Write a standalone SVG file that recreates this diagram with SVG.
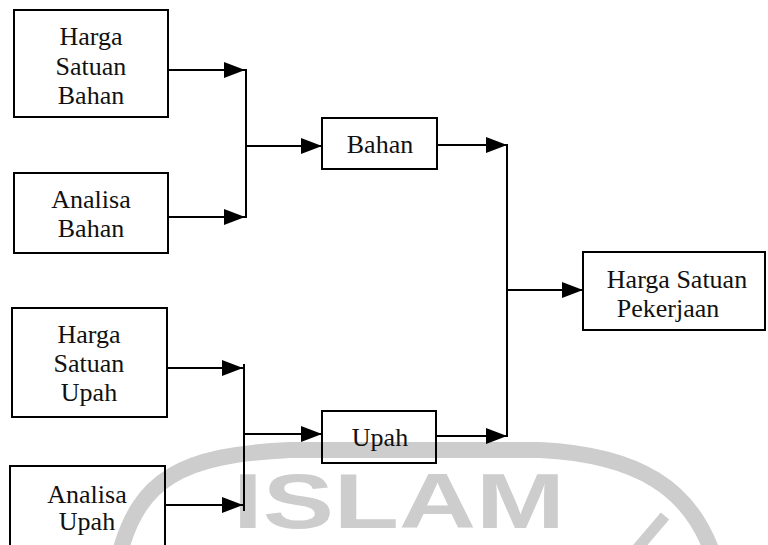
<svg xmlns="http://www.w3.org/2000/svg" width="768" height="545" viewBox="0 0 768 545">
  <style>
    .box { fill: none; stroke: #000; stroke-width: 2; }
    .lbl { font-family: "Liberation Serif", "Times New Roman", serif; font-size: 26px; fill: #111; text-anchor: middle; }
    .conn { fill: none; stroke: #000; stroke-width: 2; }
    .wm { fill: none; stroke: #cdcdcd; stroke-width: 16; }
    .wmtext { font-family: "Liberation Sans", Arial, sans-serif; font-weight: bold; font-size: 78px; fill: #cdcdcd; }
  </style>
  <defs>
    <marker id="arrow" markerUnits="userSpaceOnUse" markerWidth="22" markerHeight="18" refX="21" refY="8" orient="auto">
      <path d="M0,0 L21,8 L0,16 z" fill="#000"/>
    </marker>
  </defs>
  <rect width="768" height="545" fill="#fff"/>

  <g id="watermark">
    <path class="wm" d="M 120 552 C 140 480, 180 455, 290 450 L 540 450 C 640 455, 690 490, 712 552"/>
    <line x1="665" y1="516" x2="636" y2="550" stroke="#cdcdcd" stroke-width="11"/>
    <text class="wmtext" x="233" y="528" textLength="332" lengthAdjust="spacingAndGlyphs">ISLAM</text>
  </g>

  <g id="connectors">
    <line class="conn" x1="168" y1="70" x2="245" y2="70" marker-end="url(#arrow)"/>
    <line class="conn" x1="168" y1="217" x2="245" y2="217" marker-end="url(#arrow)"/>
    <line class="conn" x1="246" y1="69" x2="246" y2="218"/>
    <line class="conn" x1="246" y1="146" x2="322" y2="146" marker-end="url(#arrow)"/>
    <line class="conn" x1="437" y1="145" x2="507" y2="145" marker-end="url(#arrow)"/>
    <line class="conn" x1="507" y1="144" x2="507" y2="437"/>
    <line class="conn" x1="436" y1="436" x2="507" y2="436" marker-end="url(#arrow)"/>
    <line class="conn" x1="507" y1="290" x2="583" y2="290" marker-end="url(#arrow)"/>
    <line class="conn" x1="167" y1="368" x2="243" y2="368" marker-end="url(#arrow)"/>
    <line class="conn" x1="165" y1="505" x2="243" y2="505" marker-end="url(#arrow)"/>
    <line class="conn" x1="244" y1="364" x2="244" y2="511"/>
    <line class="conn" x1="244" y1="434" x2="322" y2="434" marker-end="url(#arrow)"/>
  </g>

  <g id="harga-satuan-bahan">
    <rect class="box" x="14" y="10" width="154" height="107"/>
    <text class="lbl" x="91" y="45">Harga</text>
    <text class="lbl" x="91" y="75">Satuan</text>
    <text class="lbl" x="91" y="104">Bahan</text>
  </g>
  <g id="analisa-bahan">
    <rect class="box" x="14" y="173" width="154" height="80"/>
    <text class="lbl" x="91" y="208">Analisa</text>
    <text class="lbl" x="91" y="237">Bahan</text>
  </g>
  <g id="harga-satuan-upah">
    <rect class="box" x="12" y="308" width="155" height="109"/>
    <text class="lbl" x="89" y="343">Harga</text>
    <text class="lbl" x="89" y="372">Satuan</text>
    <text class="lbl" x="89" y="401">Upah</text>
  </g>
  <g id="analisa-upah">
    <rect class="box" x="10" y="466" width="155" height="90"/>
    <text class="lbl" x="87" y="503">Analisa</text>
    <text class="lbl" x="87" y="530">Upah</text>
  </g>
  <g id="bahan">
    <rect class="box" x="322" y="118" width="115" height="51"/>
    <text class="lbl" x="380" y="153">Bahan</text>
  </g>
  <g id="upah">
    <rect class="box" x="322" y="411" width="114" height="52"/>
    <text class="lbl" x="380" y="446">Upah</text>
  </g>
  <g id="harga-satuan-pekerjaan">
    <rect class="box" x="583" y="252" width="182" height="78"/>
    <text class="lbl" x="677" y="288">Harga Satuan</text>
    <text class="lbl" x="668" y="317">Pekerjaan</text>
  </g>
</svg>
